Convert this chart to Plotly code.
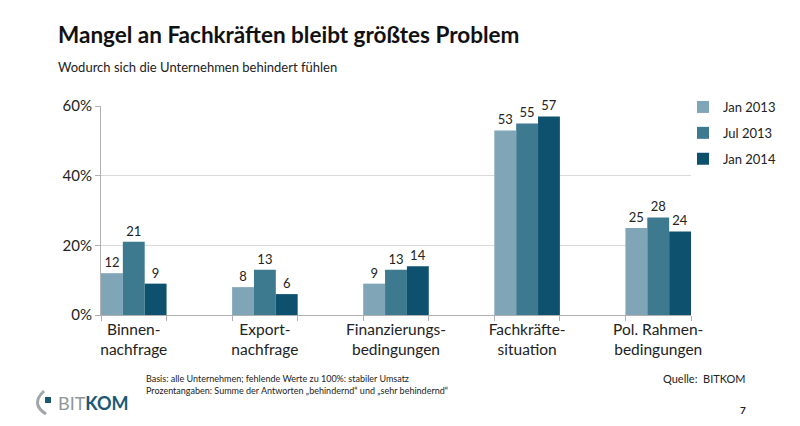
import plotly.graph_objects as go

categories = ["Binnen-<br>nachfrage", "Export-<br>nachfrage", "Finanzierungs-<br>bedingungen",
              "Fachkräfte-<br>situation", "Pol. Rahmen-<br>bedingungen"]
series_names = ["Jan 2013", "Jul 2013", "Jan 2014"]
jan2013 = [12, 8, 9, 53, 25]
jul2013 = [21, 13, 13, 55, 28]
jan2014 = [9, 6, 14, 57, 24]
y_ticks = [0, 20, 40, 60]
y_ticktext = ["0%", "20%", "40%", "60%"]
colors = ["#7fa5b6", "#3d7a8f", "#0e516e"]

FONT = "Lato"
xpos = list(range(len(categories)))

fig = go.Figure()
for name, vals, col in zip(series_names, [jan2013, jul2013, jan2014], colors):
    fig.add_trace(go.Bar(
        x=xpos, y=vals, name=name, marker=dict(color=col, line=dict(width=0)),
        text=[str(v) for v in vals], textposition="outside", cliponaxis=False,
        textfont=dict(size=13, color="#222222", family=FONT),
        legendgroup=name,
    ))

edges = []
for p in xpos:
    edges += [p - 0.25, p + 0.25]

# page offset (browser body margin)
OFF = 8
W, H = 800 - OFF, 426 - OFF
PL, PW, PT, PH = 101 - OFF, 590, 106 - OFF, 209


def px(x):
    return (x - OFF - PL) / PW


def py(y):
    return 1 - (y - OFF - PT) / PH


fig.update_layout(
    width=W, height=H,
    margin=dict(l=PL, r=W - PL - PW, t=PT, b=H - PT - PH),
    paper_bgcolor="white", plot_bgcolor="white",
    barmode="group", bargap=0.5, bargroupgap=0,
    font=dict(family=FONT, color="#222222"),
    showlegend=True,
    legend=dict(x=px(683), xanchor="left", y=py(92), yanchor="top",
                bgcolor="rgba(0,0,0,0)",
                font=dict(size=13, color="#222222", family=FONT),
                tracegroupgap=6, itemwidth=30),
    xaxis=dict(range=[-0.25, 4.25], tickvals=xpos, ticktext=categories,
               ticks="", showgrid=False, showline=True, linecolor="#b0b0b0",
               linewidth=1, zeroline=False, automargin=False,
               tickfont=dict(size=15.5, color="#222222", family=FONT),
               minor=dict(tickvals=edges, ticks="outside", ticklen=5,
                          tickcolor="#b0b0b0", showgrid=False)),
    yaxis=dict(range=[0, 60], tickvals=y_ticks, ticktext=y_ticktext,
               showgrid=True, gridcolor="#d9d9d9", gridwidth=1,
               showline=True, linecolor="#b0b0b0", linewidth=1,
               ticks="outside", ticklen=5, tickcolor="#b0b0b0",
               zeroline=False, automargin=False,
               tickfont=dict(size=15, color="#222222", family=FONT)),
)

fig.add_annotation(text="<b>Mangel an Fachkräften bleibt größtes Problem</b>",
                   xref="paper", yref="paper", x=px(56), y=py(34),
                   xanchor="left", yanchor="middle", showarrow=False,
                   font=dict(size=22.5, color="#111111", family=FONT))
fig.add_annotation(text="Wodurch sich die Unternehmen behindert fühlen",
                   xref="paper", yref="paper", x=px(56), y=py(67),
                   xanchor="left", yanchor="middle", showarrow=False,
                   font=dict(size=13, color="#222222", family=FONT))
fig.add_annotation(text="Basis: alle Unternehmen; fehlende Werte zu 100%: stabiler Umsatz<br>"
                        "Prozentangaben: Summe der Antworten „behindernd“ und „sehr behindernd“",
                   xref="paper", yref="paper", x=px(144), y=py(384),
                   xanchor="left", yanchor="middle", align="left", showarrow=False,
                   font=dict(size=9, color="#222222", family=FONT))
fig.add_annotation(text="Quelle:  BITKOM", xref="paper", yref="paper",
                   x=px(748), y=py(378), xanchor="right", yanchor="middle",
                   showarrow=False, font=dict(size=11, color="#222222", family=FONT))
fig.add_annotation(text="<b>7</b>", xref="paper", yref="paper",
                   x=px(748), y=py(410), xanchor="right", yanchor="middle",
                   showarrow=False, font=dict(size=10, color="#222222", family=FONT))
# logo
fig.add_annotation(text="<span style='color:#8f9699'>BIT</span><b><span style='color:#1a5873'>KOM</span></b>",
                   xref="paper", yref="paper", x=px(56), y=py(403),
                   xanchor="left", yanchor="middle", showarrow=False,
                   font=dict(size=18, family=FONT))
fig.add_shape(type="path", xref="paper", yref="paper",
              path="M {} {} Q {} {} {} {}".format(px(44), py(391), px(30), py(404), px(46), py(414)),
              line=dict(color="#a0a6a9", width=3))
fig.add_shape(type="rect", xref="paper", yref="paper",
              x0=px(45), x1=px(51), y0=py(397), y1=py(403),
              fillcolor="#1a5873", line=dict(width=0))

fig.write_html("out.html")
